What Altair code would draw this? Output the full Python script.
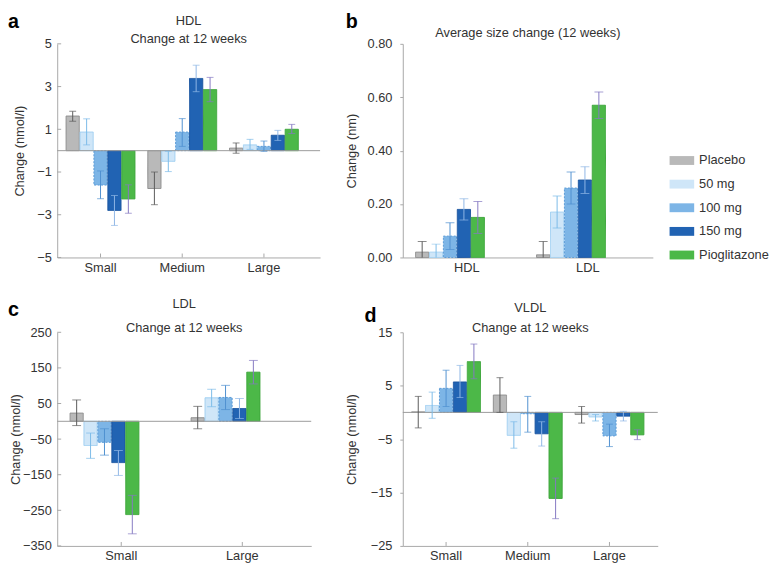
import altair as alt
import pandas as pd

FONT = "Liberation Sans"
TXT = "#333333"
AX = "#a8a8a8"
ZERO = "#9a9a9a"

groups = ["Placebo", "50 mg", "100 mg", "150 mg", "Pioglitazone"]
fill_colors = ["#b9b9b9", "#cfe6f8", "#7db5e6", "#2163b3", "#4cb848"]
edge_colors = ["#8c8c8c", "#9fcff2", "#5a9ad6", "#1b55a0", "#3ea63c"]
edge_dash = [[1, 0], [1, 0], [2, 1.5], [1, 0], [1, 0]]
err_colors = ["#5a5a5a", "#7cbbe8", "#4f90d0", "#8fb6e6", "#8579c2"]

# Panel a: HDL particle change (nmol/l)
hdl_cats = ["Small", "Medium", "Large"]
hdl_val = [[1.62, 0.87, -1.61, -2.80, -2.26],
           [-1.77, -0.50, 0.87, 3.38, 2.86],
           [0.12, 0.27, 0.20, 0.72, 1.00]]
hdl_lo = [[1.38, 0.27, -2.25, -3.50, -2.93],
          [-2.53, -0.98, 0.20, 2.76, 2.29],
          [-0.12, 0.06, -0.03, 0.48, 0.80]]
hdl_hi = [[1.84, 1.49, -0.95, -2.10, -1.60],
          [-1.00, -0.03, 1.50, 4.00, 3.43],
          [0.36, 0.53, 0.45, 0.95, 1.23]]
hdl_ticks = [-5, -3, -1, 1, 3, 5]

# Panel b: average size change (nm)
size_cats = ["HDL", "LDL"]
size_val = [[0.02, 0.02, 0.08, 0.18, 0.15],
            [0.01, 0.17, 0.26, 0.29, 0.57]]
size_lo = [[-0.02, -0.01, 0.03, 0.14, 0.09],
           [-0.04, 0.11, 0.20, 0.24, 0.52]]
size_hi = [[0.06, 0.05, 0.13, 0.22, 0.21],
           [0.06, 0.23, 0.32, 0.34, 0.62]]
size_ticks = [0, 0.2, 0.4, 0.6, 0.8]

# Panel c: LDL particle change (nmol/l)
ldl_cats = ["Small", "Large"]
ldl_val = [[23, -68, -59, -116, -262],
           [10, 66, 67, 36, 138]]
ldl_lo = [[-12, -104, -95, -152, -316],
          [-21, 41, 33, 8, 105]]
ldl_hi = [[60, -33, -21, -82, -208],
          [42, 90, 101, 64, 171]]
ldl_ticks = [-350, -250, -150, -50, 50, 150, 250]

# Panel d: VLDL particle change (nmol/l)
vldl_cats = ["Small", "Medium", "Large"]
vldl_val = [[0.1, 1.3, 4.5, 5.7, 9.5],
            [3.25, -4.3, -0.25, -4.0, -16.1],
            [-0.4, -0.85, -4.4, -0.7, -4.2]]
vldl_lo = [[-2.9, -1.1, 1.1, 2.8, 6.3],
           [0.0, -6.7, -3.7, -6.3, -19.9],
           [-2.0, -1.6, -6.4, -1.6, -5.1]]
vldl_hi = [[3.0, 3.8, 7.9, 8.8, 12.8],
           [6.5, -1.75, 3.0, -1.75, -12.3],
           [1.1, -0.4, -2.2, 0.2, -3.25]]
vldl_ticks = [-25, -15, -5, 5, 15]

legend = alt.Legend(orient="none", legendX=622, legendY=106, title=None,
                    labelFontSize=13, labelFont=FONT, labelColor=TXT,
                    symbolType="M-1,-0.36H1V0.36H-1Z", symbolSize=625,
                    symbolStrokeWidth=0, symbolOpacity=1, labelOffset=5,
                    rowPadding=4, padding=0)


def text_layer(s, x, y, size=13, weight="normal", color=TXT, align="center",
               baseline="middle"):
    return alt.Chart(pd.DataFrame({"t": [s]})).mark_text(
        font=FONT, fontSize=size, fontWeight=weight, color=color,
        align=align, baseline=baseline).encode(
        text="t:N", x=alt.value(x), y=alt.value(y))


def panel(cats, val, lo, hi, ticks, fmt, ytitle, title_lines, title_ys,
          letter, letter_xy, width, height, pin, pout, palign, ylabpad,
          ytitlepad, inward, xticks_in, cap, clip=False, zero=True):
    rows = [dict(cat=c, group=g, value=val[i][j], lo=lo[i][j], hi=hi[i][j])
            for i, c in enumerate(cats) for j, g in enumerate(groups)]
    df = pd.DataFrame(rows)
    xenc = alt.X("cat:N", sort=cats, title=None,
                 scale=alt.Scale(paddingInner=pin, paddingOuter=pout,
                                 align=palign),
                 axis=alt.Axis(labelAngle=0, ticks=False, domainColor=AX,
                               labelFontSize=13, labelColor=TXT,
                               labelPadding=4, labelFont=FONT))
    xoff = alt.XOffset("group:N", sort=groups,
                       scale=alt.Scale(paddingInner=0.05, paddingOuter=0))
    yscale = alt.Scale(domain=[ticks[0], ticks[-1]], nice=False, zero=False)
    yaxis = alt.Axis(values=ticks, format=fmt, grid=False, ticks=not inward,
                     tickSize=3, tickColor=AX, domainColor=AX,
                     labelFontSize=13, labelColor=TXT, labelPadding=ylabpad,
                     labelFont=FONT, title=ytitle, titleFontSize=13,
                     titleFontWeight="normal", titleColor=TXT,
                     titlePadding=ytitlepad, titleFont=FONT)
    ecol = alt.Color("group:N", sort=groups,
                     scale=alt.Scale(domain=groups, range=err_colors),
                     legend=None)
    bars = alt.Chart(df).mark_bar(strokeWidth=1).encode(
        x=xenc, xOffset=xoff,
        y=alt.Y("value:Q", scale=yscale, axis=yaxis),
        fill=alt.Fill("group:N", sort=groups,
                      scale=alt.Scale(domain=groups, range=fill_colors),
                      legend=legend),
        stroke=alt.Stroke("group:N", sort=groups,
                          scale=alt.Scale(domain=groups, range=edge_colors),
                          legend=None),
        strokeDash=alt.StrokeDash("group:N", sort=groups,
                                  scale=alt.Scale(domain=groups,
                                                  range=edge_dash),
                                  legend=None))
    err = alt.Chart(df).mark_rule(strokeWidth=1, clip=clip).encode(
        x=xenc, xOffset=xoff,
        y=alt.Y("lo:Q", scale=yscale, axis=yaxis), y2="hi:Q", color=ecol)
    caps = alt.Chart(df).transform_fold(["lo", "hi"], as_=["end", "ev"]).mark_tick(
        size=cap, thickness=1, clip=clip).encode(
        x=xenc, xOffset=xoff,
        y=alt.Y("ev:Q", scale=yscale, axis=yaxis), color=ecol)
    layers = [bars]
    if zero:
        layers.append(alt.Chart(pd.DataFrame({"z": [0]})).mark_rule(
            color=ZERO, strokeWidth=1).encode(
            y=alt.Y("z:Q", scale=yscale, axis=yaxis)))
    layers += [err, caps]
    if inward:
        layers.append(alt.Chart(pd.DataFrame({"t": ticks})).mark_rule(
            color=AX).encode(y=alt.Y("t:Q", scale=yscale, axis=yaxis),
                             x=alt.value(0), x2=alt.value(4)))
    if xticks_in:
        layers.append(alt.Chart(pd.DataFrame({"cat": cats})).mark_rule(
            color=AX).encode(x=xenc, y=alt.value(height),
                             y2=alt.value(height - 4)))
    for line, ty in zip(title_lines, title_ys):
        layers.append(text_layer(line, width / 2, ty))
    layers.append(text_layer(letter, letter_xy[0], letter_xy[1], size=20,
                             weight="bold", color="#000000", align="left",
                             baseline="alphabetic"))
    return alt.layer(*layers).properties(width=width, height=height)


H = 217
pa = panel(hdl_cats, hdl_val, hdl_lo, hdl_hi, hdl_ticks, "d",
           "Change (nmol/l)", ["HDL", "Change at 12 weeks"], [-23, -5],
           "a", (-50, -16), 267, H, 0.157, 0.187, 0.29, 6, 10,
           True, True, 7)
pb = panel(size_cats, size_val, size_lo, size_hi, size_ticks, ".2f",
           "Change (nm)", ["Average size change (12 weeks)"], [-11],
           "b", (-58, -16), 254, H, 0.154, 0.11, 0.48, 8, 9,
           False, False, 9, clip=True, zero=False)
pc = panel(ldl_cats, ldl_val, ldl_lo, ldl_hi, ldl_ticks, "d",
           "Change (nmol/l)", ["LDL", "Change at 12 weeks"], [-29, -4],
           "c", (-50, -17), 258, H, 0.154, 0.126, 0.42, 6, 0,
           True, True, 9)
pd_ = panel(vldl_cats, vldl_val, vldl_lo, vldl_hi, vldl_ticks, "d",
            "Change (nmol/l)", ["VLDL", "Change at 12 weeks"], [-25, -4],
            "d", (-39, -10), 259, H, 0.157, 0.139, 0.39, 8, 12,
            False, True, 7)

chart = alt.concat(pa, pb, pc, pd_, columns=2,
                   spacing={"row": 76, "column": 84},
                   bounds="flush").properties(padding=0).configure(
    font=FONT).configure_view(stroke=None)

chart.save("out.html", embed_options={"renderer": "svg", "actions": False})
